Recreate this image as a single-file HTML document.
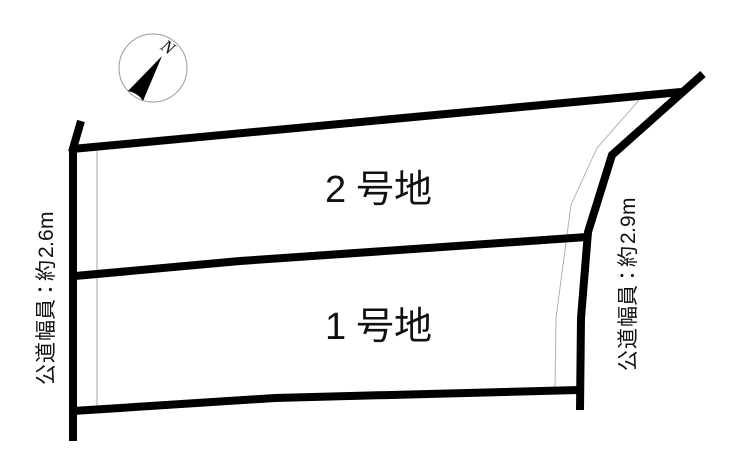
<!DOCTYPE html>
<html><head><meta charset="utf-8"><style>
html,body{margin:0;padding:0;background:#fff}
svg{display:block}
text{font-family:"Liberation Sans","Noto Sans CJK JP",sans-serif;fill:#111}
</style></head><body>
<svg width="740" height="464" viewBox="0 0 740 464" xmlns="http://www.w3.org/2000/svg">
<rect width="740" height="464" fill="#fff"/>
<g fill="none" stroke="#aaa" stroke-width="0.9">
<path d="M97 150V410" stroke="#bbb" stroke-width="1.3"/>
<path d="M640 99L597 148L571 205L556 318L555 388"/>
</g>
<circle cx="153" cy="68" r="34" fill="#fff" stroke="#999" stroke-width="1"/>
<path d="M162 56L128 91Q138 93 143 101Z" fill="#000"/>
<text x="0" y="6" text-anchor="middle" font-size="18" transform="translate(168,47) rotate(35)" style="font-family:'Liberation Serif',serif;font-style:italic">N</text>
<g fill="none" stroke="#000" stroke-width="8">
<path d="M73 441V150"/>
<path d="M72 152L81 121"/>
<path d="M72 149L681 92"/>
<path d="M703 74L612 155L588 232L581 318L580 410"/>
<path d="M75 276L240 261L587 237"/>
<path d="M73 411L275 398L579 390"/>
</g>
<text x="325 356 394" y="202" font-size="38">2号地</text>
<text x="325 356 394" y="339" font-size="38">1号地</text>
<text transform="translate(53,385) rotate(-90)" font-size="21" x="0 22 44 65 85 104 127 138 144 156">公道幅員：約2.6m</text>
<text transform="translate(635,371) rotate(-90)" font-size="21" x="0 22 44 65 85 104 127 138 144 156">公道幅員：約2.9m</text>
</svg>
</body></html>
